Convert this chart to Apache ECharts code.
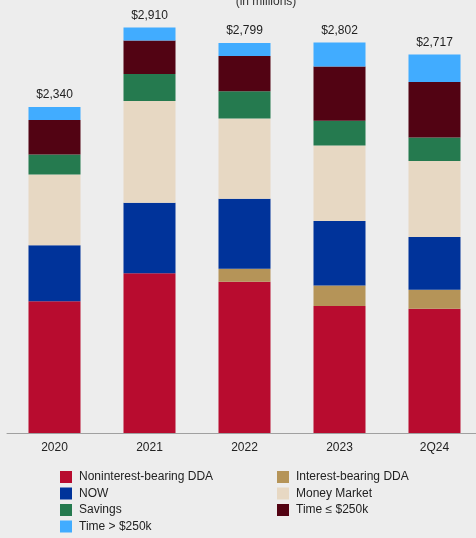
<!DOCTYPE html>
<html><head><meta charset="utf-8">
<script src="https://cdn.jsdelivr.net/npm/echarts@6/dist/echarts.min.js"></script>
<style>html,body{margin:0;padding:0;background:#ededed}#c{width:476px;height:538px}</style>
</head><body><div id="c"></div>
<script>
const categories = ['2020', '2021', '2022', '2023', '2Q24'];
const totals = ['$2,340', '$2,910', '$2,799', '$2,802', '$2,717'];
const nonInterestDDA = [945, 1147, 1086, 912, 892];
const interestDDA = [0, 0, 93, 146, 136];
const now = [402, 506, 502, 464, 378];
const moneyMarket = [508, 729, 576, 542, 547];
const savings = [143, 194, 196, 177, 167];
const timeLe250 = [249, 241, 253, 389, 399];
const timeGt250 = [93, 93, 93, 172, 198];

const names = ['Noninterest-bearing DDA', 'Interest-bearing DDA', 'NOW', 'Money Market', 'Savings', 'Time ≤ $250k', 'Time > $250k'];
const colors = ['#b80c2f', '#b59458', '#00339a', '#e7d8c3', '#257a4f', '#520313', '#41acff'];
const data = [nonInterestDDA, interestDDA, now, moneyMarket, savings, timeLe250, timeGt250];

const series = names.map((n, i) => ({
  name: n, type: 'bar', stack: 'total', barWidth: 52,
  data: data[i], itemStyle: { color: colors[i] },
  label: i === names.length - 1 ? {
    show: true, position: 'top', distance: 6,
    formatter: p => totals[p.dataIndex],
    color: '#222', fontSize: 12, fontFamily: 'Liberation Sans'
  } : { show: false }
}));

const legendCommon = {
  orient: 'vertical', itemWidth: 12, itemHeight: 12, itemGap: 4.5, icon: 'rect',
  padding: 0, height: 80,
  textStyle: { color: '#222', fontSize: 12, fontFamily: 'Liberation Sans', padding: [0, 0, 0, 2] },
  top: 471
};

const chart = echarts.init(document.getElementById('c'));
chart.setOption({
  backgroundColor: '#ededed',
  animation: false,
  title: {
    text: '(in millions)', left: 261, top: -9, textAlign: 'center',
    textStyle: { color: '#333', fontSize: 12, fontWeight: 'normal', fontFamily: 'Liberation Sans' }
  },
  grid: { left: 7, width: 475, top: 15, bottom: 105, outerBoundsMode: 'none' },
  xAxis: {
    type: 'category', data: categories,
    axisLine: { lineStyle: { color: '#a0a0a0', width: 1 } },
    axisTick: { show: false },
    axisLabel: { color: '#222', fontSize: 12, margin: 9, fontFamily: 'Liberation Sans' }
  },
  yAxis: { type: 'value', min: 0, max: 3000, show: false, splitLine: { show: false } },
  legend: [
    Object.assign({}, legendCommon, { left: 60, data: ['Noninterest-bearing DDA', 'NOW', 'Savings', 'Time > $250k'] }),
    Object.assign({}, legendCommon, { left: 277, data: ['Interest-bearing DDA', 'Money Market', 'Time ≤ $250k'] })
  ],
  series: series
});
</script></body></html>
